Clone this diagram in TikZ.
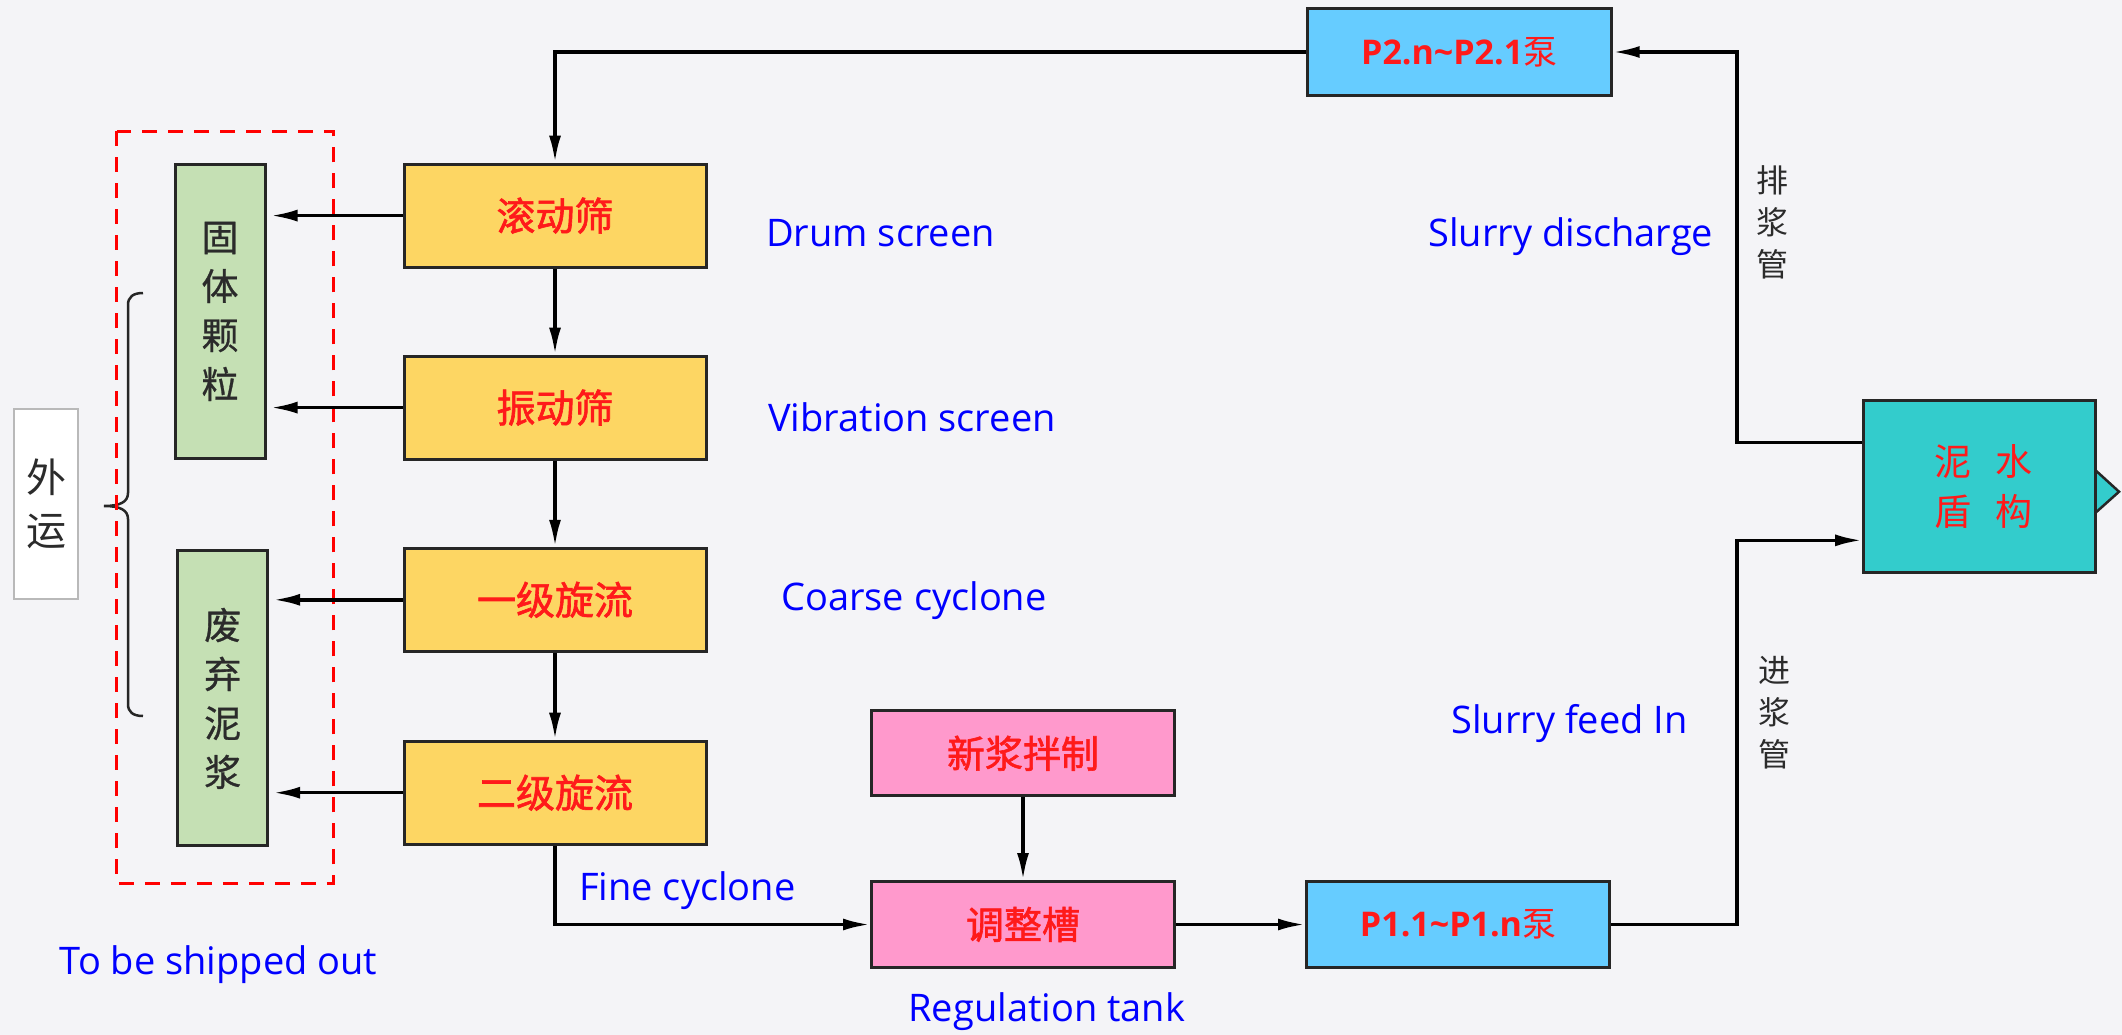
\documentclass[tikz,border=0pt]{standalone}
\usepackage{fontspec}
\setmainfont{Open Sans}
\newfontfamily\cjk{Noto Sans CJK SC}
\newfontfamily\cjkm[FakeBold=1.6]{Noto Sans CJK SC}
\newfontfamily\cjkg[FakeBold=0.8]{Noto Sans CJK SC}
\usetikzlibrary{arrows.meta,calc}
\definecolor{bg}{HTML}{F4F4F7}
\definecolor{yfill}{HTML}{FDD663}
\definecolor{gfill}{HTML}{C5E0B4}
\definecolor{pfill}{HTML}{FF99CC}
\definecolor{cfill}{HTML}{66CCFF}
\definecolor{tfill}{HTML}{33CCCC}
\definecolor{rtext}{HTML}{FF1A1A}
\definecolor{btext}{HTML}{0000FF}
\definecolor{dtext}{HTML}{2B2B2B}
\definecolor{edge}{HTML}{262626}
\begin{document}
\begin{tikzpicture}[x=1pt,y=-1pt,
  box/.style={draw=edge, line width=3pt, rectangle, inner sep=0pt},
  ybox/.style={box, fill=yfill, minimum width=302pt, minimum height=103pt, text=rtext, font=\cjkm\fontsize{39}{39}\selectfont},
  gbox/.style={box, fill=gfill, minimum width=90pt, minimum height=294pt, text=dtext, align=center, font=\cjkg\fontsize{37}{49}\selectfont},
  pbox/.style={box, fill=pfill, minimum width=303pt, minimum height=85pt, text=rtext, font=\cjkm\fontsize{38}{38}\selectfont},
  cbox/.style={box, fill=cfill, minimum width=303pt, minimum height=86pt, text=rtext, font=\bfseries\fontsize{34}{34}\selectfont},
  lbl/.style={anchor=base west, text=btext, font=\fontsize{38}{46}\selectfont, inner sep=0pt},
  vlbl/.style={text=dtext, align=center, inner sep=0pt, font=\cjk\fontsize{32}{42}\selectfont},
  arr/.style={line width=3.5pt, draw=black, -{Latex[length=27pt,width=12pt]}}
]
\useasboundingbox (0,0) rectangle (2122,1035);
\fill[bg] (0,0) rectangle (2122,1035);

% main column
\node[ybox] (y1) at (555,215.6) {滚动筛};
\node[ybox] (y2) at (555,407.6) {振动筛};
\node[ybox] (y3) at (555,599.8) {一级旋流};
\node[ybox] (y4) at (555,792.7) {二级旋流};

% discharge boxes
\node[gbox] (g1) at (220,311.4) {固\\体\\颗\\粒};
\node[gbox, minimum height=295pt] (g2) at (222.7,698.4) {废\\弃\\泥\\浆};

% external
\node[draw=gray!55, line width=1.5pt, fill=white, minimum width=64pt, minimum height=190pt, inner sep=0pt, align=center, text=dtext, font=\cjk\fontsize{40}{53.5}\selectfont] (ext) at (46.2,504) {外\\运};

% pumps and tanks
\node[cbox, minimum width=304pt, minimum height=87.6pt] (p2) at (1459.2,52) {P2.n\textasciitilde P2.1{\cjk\mdseries 泵}};
\node[cbox] (p1) at (1458,924.5) {P1.1\textasciitilde P1.n{\cjk\mdseries 泵}};
\node[pbox] (mix) at (1023,753.3) {新浆拌制};
\node[pbox, minimum height=86pt] (tank) at (1023,924.5) {调整槽};

% shield machine
\coordinate (tria) at (2095.2,470);
\coordinate (trit) at (2119,491.7);
\coordinate (trib) at (2095.2,513);
\fill[tfill] (tria) -- (trit) -- (trib) -- cycle;
\draw[edge, line width=2.5pt] (tria) -- (trit) -- (trib);
\node[box, fill=tfill, minimum width=231.7pt, minimum height=171.7pt, text=rtext, align=center, font=\cjk\fontsize{37}{50}\selectfont] (shield) at (1979.4,486.7) {\hspace{8pt}泥\hspace{24pt}水\\\hspace{8pt}盾\hspace{24pt}构};

\coordinate (sout) at ($(shield.north west)!0.246!(shield.south west)$);
\coordinate (sin) at ($(shield.north west)!0.807!(shield.south west)$);
\coordinate (riser) at (1737,0);

% brace
\draw[edge, line width=2.5pt] (143,293) .. controls (133,293) and (128,297) .. (128,305) -- (128,493)
  .. controls (128,502) and (120,506) .. (104,506)
  .. controls (120,506) and (128,510) .. (128,519) -- (128,704)
  .. controls (128,712) and (133,716) .. (143,716);

% dashed frame
\draw[red, line width=3pt, dash pattern=on 15pt off 11pt] (116.9,131.1) rectangle (333.9,883.2);

% connectors
\draw[arr] (p2.west) -| (y1.north);
\draw[arr] (y1.south) -- (y2.north);
\draw[arr] (y2.south) -- (y3.north);
\draw[arr] (y3.south) -- (y4.north);
\draw[arr, shorten >=4pt] (y1.west) -- (y1.west -| g1.east);
\draw[arr, shorten >=4pt] (y2.west) -- (y2.west -| g1.east);
\draw[arr, shorten >=4pt] (y3.west) -- (y3.west -| g2.east);
\draw[arr, shorten >=4pt] (y4.west) -- (y4.west -| g2.east);
\draw[arr] (y4.south) |- (tank.west);
\draw[arr] (mix.south) -- (tank.north);
\draw[arr] (tank.east) -- (p1.west);
\draw[arr] (p1.east) -| (riser |- sin) -- (sin);
\draw[arr] (sout) -| (riser |- p2.east) -- (p2.east);

% pipe labels
\node[vlbl] (lout) at (1772,222.5) {排\\浆\\管};
\node[vlbl] (lin) at (1774,713) {进\\浆\\管};

% english labels
\node[lbl] (tdrum) at (766,246) {Drum screen};
\node[lbl] (tvib) at (768,431.7) {Vibration screen};
\node[lbl] (tcoarse) at (781,610.5) {Coarse cyclone};
\node[lbl] (tfine) at (579,900) {Fine cyclone};
\node[lbl] (tship) at (59.5,974) {To be shipped out};
\node[lbl] (treg) at (908.3,1021.7) {Regulation tank};
\node[lbl] (tfeed) at (1451,733.3) {Slurry feed In};
\node[lbl] (tdis) at (1428.3,246.7) {Slurry discharge};
\end{tikzpicture}
\end{document}
